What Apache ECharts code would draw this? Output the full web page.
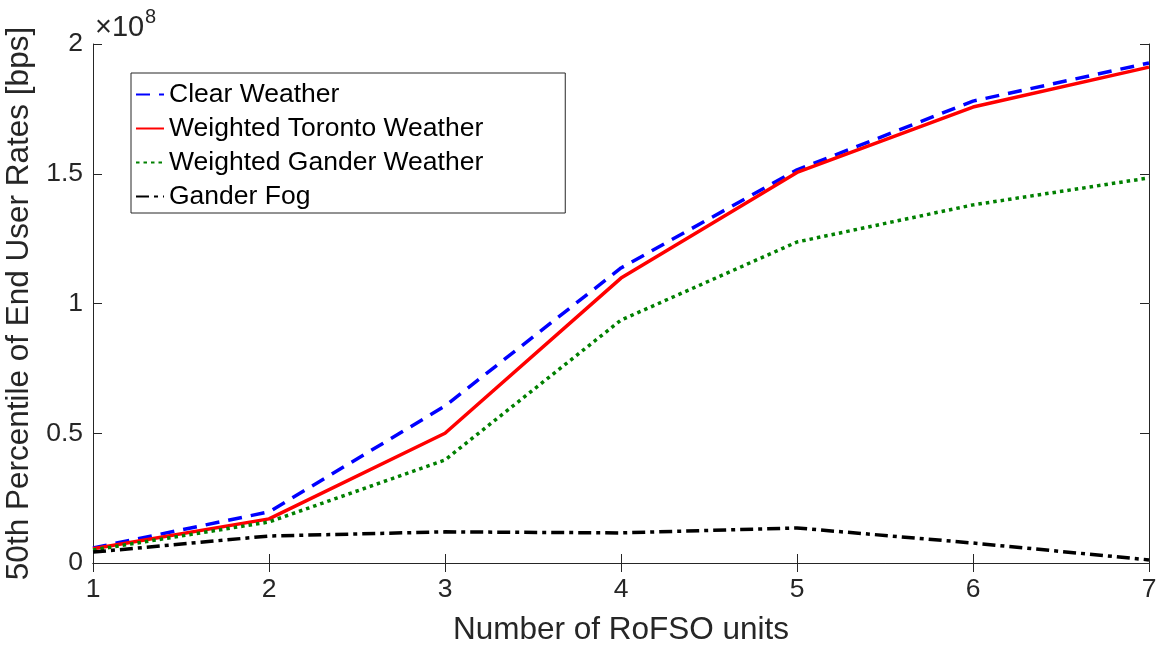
<!DOCTYPE html>
<html><head><meta charset="utf-8">
<script src="https://cdn.jsdelivr.net/npm/echarts@6/dist/echarts.min.js"></script>
<style>html,body{margin:0;padding:0;background:#fff}#c{width:1163px;height:645px}</style>
</head><body><div id="c"></div>
<script>
const categories = [1, 2, 3, 4, 5, 6, 7];
const clearWeather = [0.058, 0.197, 0.605, 1.137, 1.515, 1.78, 1.927];
const torontoWeather = [0.055, 0.17, 0.50, 1.098, 1.505, 1.757, 1.911];
const ganderWeather = [0.05, 0.158, 0.397, 0.936, 1.237, 1.38, 1.484];
const ganderFog = [0.042, 0.104, 0.12, 0.116, 0.135, 0.077, 0.012];
const yTicks = ['0', '0.5', '1', '1.5', '2'];
const names = ['Clear Weather', 'Weighted Toronto Weather', 'Weighted Gander Weather', 'Gander Fog'];

const F = '"Liberation Sans", Arial, Helvetica, sans-serif';
const chart = echarts.init(document.getElementById('c'));
const pair = (arr) => categories.map((x, i) => [x, arr[i]]);
const mk = (name, arr, color, type, w) => ({
  name, type: 'line', data: pair(arr), symbol: 'none', xAxisIndex: 0, yAxisIndex: 0,
  lineStyle: { color, width: w, type }, itemStyle: { color }, z: 3
});
const axisCommon = {
  axisLine: { show: true, lineStyle: { color: '#262626', width: 1 } },
  axisTick: { show: true, inside: true, length: 9, lineStyle: { color: '#262626' } },
  splitLine: { show: false }
};
chart.setOption({
  animation: false,
  backgroundColor: '#fff',
  grid: { left: 93, right: 14, top: 44, bottom: 82, show: false, containLabel: false, outerBoundsMode: 'none' },
  xAxis: [
    Object.assign({ type: 'value', min: 1, max: 7, interval: 1, name: 'Number of RoFSO units',
      nameLocation: 'middle', nameGap: 51,
      nameTextStyle: { fontFamily: F, fontSize: 31.5, color: '#262626' },
      axisLabel: { fontFamily: F, fontSize: 26.5, color: '#262626', margin: 13,
        formatter: v => String(categories[Math.round(v) - 1] ?? v) } }, axisCommon),
    Object.assign({ type: 'value', min: 1, max: 7, interval: 1, position: 'top',
      axisLabel: { show: false } }, axisCommon)
  ],
  yAxis: [
    Object.assign({ type: 'value', min: 0, max: 2, interval: 0.5,
      name: '50th Percentile of End User Rates [bps]', nameLocation: 'middle', nameGap: 53,
      nameTextStyle: { fontFamily: F, fontSize: 31.5, color: '#262626' },
      axisLabel: { fontFamily: F, fontSize: 26.5, color: '#262626', margin: 10,
        formatter: v => yTicks[Math.round(v / 0.5)] } }, axisCommon),
    Object.assign({ type: 'value', min: 0, max: 2, interval: 0.5, position: 'right',
      axisLabel: { show: false } }, axisCommon)
  ],
  legend: {
    orient: 'vertical', left: 131, top: 73, data: names,
    backgroundColor: '#fff', borderColor: '#262626', borderWidth: 1,
    padding: [6, 82, 1, 4], itemGap: 3, itemWidth: 28, itemHeight: 14,
    itemStyle: { opacity: 0 },
    textStyle: { fontFamily: F, fontSize: 26.5, color: '#000', lineHeight: 31 }
  },
  graphic: [
    { type: 'text', left: 95, top: 13,
      style: { text: '×10', fontFamily: F, fontSize: 29, fill: '#262626' } },
    { type: 'text', left: 145, top: 7,
      style: { text: '8', fontFamily: F, fontSize: 20, fill: '#262626' } }
  ],
  series: [
    mk(names[0], clearWeather, '#0000ff', [14, 9], 3.5),
    mk(names[1], torontoWeather, '#ff0000', 'solid', 3.5),
    mk(names[2], ganderWeather, '#008000', [3.5, 4], 3.5),
    mk(names[3], ganderFog, '#000000', [13, 5, 4, 5], 3.5)
  ]
});
</script></body></html>
